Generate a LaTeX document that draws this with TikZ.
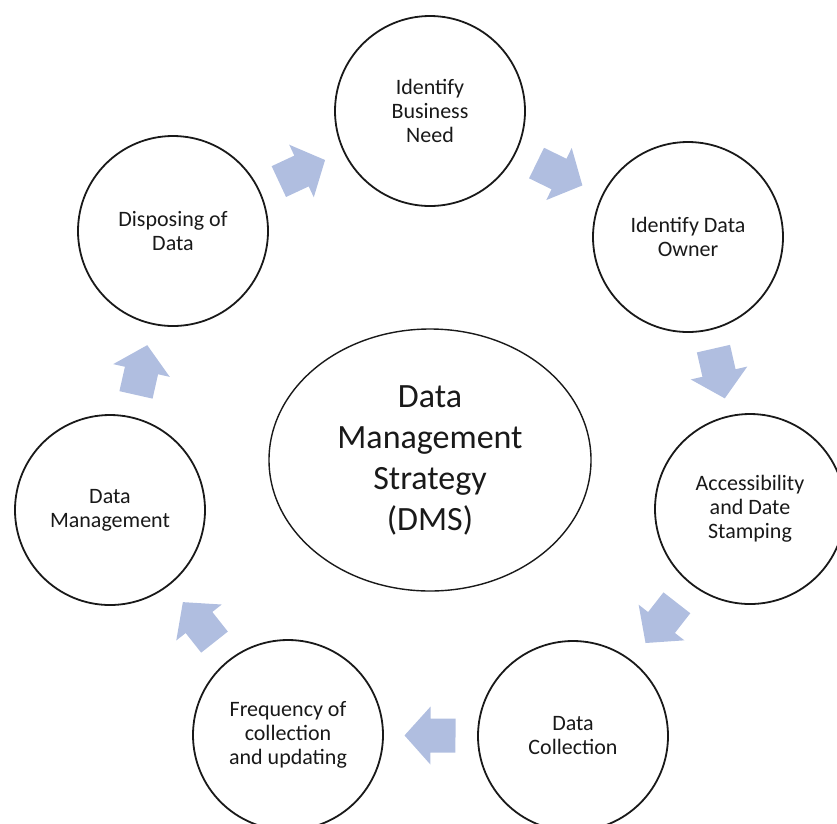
\documentclass[tikz,border=0pt]{standalone}
\usepackage{fontspec}
\setmainfont{Carlito}
\usetikzlibrary{shapes.geometric}
\definecolor{arrowblue}{RGB}{176,190,224}
\definecolor{inkgray}{RGB}{25,25,25}
\tikzset{
  stage/.style={circle, draw=inkgray, line width=1.8pt, minimum size=190pt, inner sep=0pt,
    align=center, text=inkgray, font=\fontsize{22}{24}\selectfont},
  flow/.pic={\fill[arrowblue] (-25,-17) -- (0,-17) -- (0,-29) -- (26,0) -- (0,29) -- (0,17) -- (-25,17) -- cycle;}
}
\begin{document}
\begin{tikzpicture}[x=1pt, y=-1pt]
  \clip (0,0) rectangle (837,823);

  \node (dms) at (430,460) [ellipse, draw=inkgray, line width=1.4pt, minimum width=322pt,
    minimum height=262pt, align=center, text=inkgray, font=\fontsize{34}{41}\selectfont]
    {Data\\Management\\Strategy\\(DMS)};

  \node (need)   at (430,111) [stage] {Identify\\Business\\Need};
  \node (owner)  at (688,237) [stage] {Identify Data\\Owner};
  \node (access) at (750,509) [stage] {Accessibility\\and Date\\Stamping};
  \node (collect) at (573,736) [stage] {Data\\Collection};
  \node (freq)   at (288,735) [stage] {Frequency of\\collection\\and updating};
  \node (mgmt)   at (110,510) [stage] {Data\\Management};
  \node (dispose) at (173,231) [stage] {Disposing of\\Data};

  % block arrows between the stages
  \path (dispose) -- (need)    pic[midway, sloped, allow upside down] {flow};
  \path (need)    -- (owner)   pic[midway, sloped, allow upside down] {flow};
  \path (owner)   -- (access)  pic[midway, sloped, allow upside down] {flow};
  \path (access)  -- (collect) pic[midway, sloped, allow upside down] {flow};
  \path (collect) -- (freq)    pic[midway, sloped, allow upside down] {flow};
  \path (freq)    -- (mgmt)    pic[midway, sloped, allow upside down] {flow};
  \path (mgmt)    -- (dispose) pic[midway, sloped, allow upside down] {flow};
\end{tikzpicture}
\end{document}
